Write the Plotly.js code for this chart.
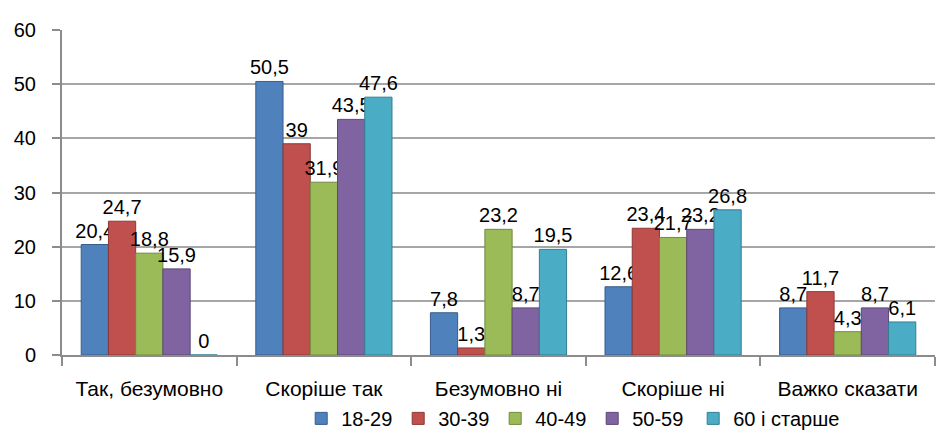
<!DOCTYPE html>
<html>
<head>
<meta charset="utf-8">
<script src="https://cdn.plot.ly/plotly-3.0.1.min.js"></script>
<style>html,body{margin:0;padding:0;background:#fff;}#chart{width:949px;height:435px;}</style>
</head>
<body>
<div id="chart"></div>
<script>
const categories = ["Так, безумовно", "Скоріше так", "Безумовно ні", "Скоріше ні", "Важко сказати"];
const seriesNames = ["18-29", "30-39", "40-49", "50-59", "60 і старше"];
const v18_29 = [20.4, 50.5, 7.8, 12.6, 8.7];
const v30_39 = [24.7, 39, 1.3, 23.4, 11.7];
const v40_49 = [18.8, 31.9, 23.2, 21.7, 4.3];
const v50_59 = [15.9, 43.5, 8.7, 23.2, 8.7];
const v60plus = [0, 47.6, 19.5, 26.8, 6.1];
const yTicks = [0, 10, 20, 30, 40, 50, 60];

const seriesValues = [v18_29, v30_39, v40_49, v50_59, v60plus];
const colors = ["#4F81BD", "#C0504D", "#9BBB59", "#8064A2", "#4BACC6"];
const edge = ["#385D8A", "#8C3836", "#71893F", "#5C4776", "#357D91"];
const fam = "Liberation Sans";

const traces = seriesValues.map((vals, i) => ({
  type: "bar",
  name: seriesNames[i],
  x: categories,
  y: vals,
  text: vals.map(v => String(v).replace(".", ",")),
  textposition: "outside",
  constraintext: "none",
  cliponaxis: false,
  textfont: {family: fam, size: 20, color: "#000"},
  marker: {color: colors[i], line: {color: edge[i], width: 1}},
  legend: i < 4 ? "legend" : "legend2",
  hoverinfo: "skip"
}));

const legendCommon = {orientation: "h", xanchor: "left", y: -0.135, yanchor: "top",
  bgcolor: "rgba(0,0,0,0)",
  font: {family: fam, size: 20, color: "#000"}, itemwidth: 30, traceorder: "normal"};

const layout = {
  width: 949, height: 435,
  margin: {l: 62, r: 14, t: 30, b: 80, autoexpand: false},
  paper_bgcolor: "#fff", plot_bgcolor: "#fff",
  barmode: "group",
  bargap: 0.22, bargroupgap: 0,
  showlegend: true,
  legend: Object.assign({}, legendCommon, {x: 0.274, entrywidth: 52, entrywidthmode: "pixels"}),
  legend2: Object.assign({}, legendCommon, {x: 0.723}),
  xaxis: {
    showgrid: false, showline: true, linecolor: "#8c8c8c", linewidth: 2,
    ticks: "outside", ticklen: 9, tickcolor: "#8c8c8c", tickwidth: 2,
    tickson: "boundaries", ticklabelstandoff: 14,
    tickfont: {family: fam, size: 21, color: "#000"}
  },
  yaxis: {
    range: [0, 60], tickvals: yTicks, ticktext: yTicks.map(String),
    showgrid: true, gridcolor: "#a6a6a6", gridwidth: 2,
    showline: true, linecolor: "#8c8c8c", linewidth: 2,
    ticks: "outside", ticklen: 8, tickcolor: "#8c8c8c", tickwidth: 2,
    zeroline: false, ticklabelstandoff: 12,
    tickfont: {family: fam, size: 20, color: "#000"}
  }
};

Plotly.newPlot("chart", traces, layout, {displayModeBar: false, staticPlot: true});
</script>
</body>
</html>
